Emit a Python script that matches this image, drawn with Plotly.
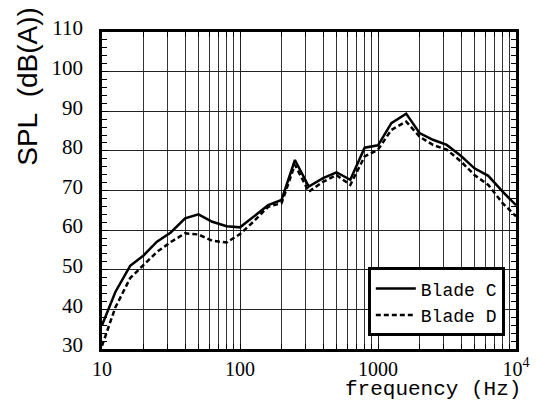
import plotly.graph_objects as go

# 1/3-octave band centre frequencies (Hz)
freq = [10, 12.5, 16, 20, 25, 31.5, 40, 50, 63, 80, 100, 125, 160, 200, 250,
        315, 400, 500, 630, 800, 1000, 1250, 1600, 2000, 2500, 3150, 4000,
        5000, 6300, 8000, 10000]

# A-weighted sound pressure level, dB(A)
spl_blade_c = [36.0, 44.4, 51.0, 53.6, 57.1, 59.4, 63.0, 64.0, 62.1, 61.0, 60.7,
               63.4, 66.3, 67.6, 77.7, 71.0, 73.1, 74.6, 72.7, 80.8, 81.4,
               87.0, 89.4, 84.5, 82.8, 81.5, 78.7, 75.6, 73.7, 69.7, 66.3]
spl_blade_d = [30.8, 40.5, 47.9, 51.1, 54.5, 57.0, 59.2, 58.9, 57.3, 56.9, 59.0,
               62.1, 65.9, 66.8, 76.5, 69.7, 72.2, 73.9, 71.4, 78.6, 80.3,
               85.3, 87.4, 83.6, 81.5, 80.3, 77.3, 73.9, 71.4, 66.8, 63.5]

x_tick_vals = [10, 100, 1000, 10000]
x_tick_text = ["10", "100", "1000", "10<sup>4</sup>"]
x_minor_vals = [m * d for d in (10, 100, 1000) for m in range(2, 10)]

fig = go.Figure()
fig.add_trace(go.Scatter(x=freq, y=spl_blade_c, mode="lines", name="Blade C",
                         line=dict(color="black", width=2.5)))
fig.add_trace(go.Scatter(x=freq, y=spl_blade_d, mode="lines", name="Blade D",
                         line=dict(color="black", width=2.5, dash="5px,3px")))

tick_font = dict(family="Liberation Serif", size=21, color="black")

fig.update_xaxes(
    type="log", range=[1, 4],
    tickvals=x_tick_vals, ticktext=x_tick_text,
    tickfont=dict(family="Liberation Serif", size=20, color="black"),
    ticks="inside", ticklen=5, tickcolor="black", tickwidth=1,
    showgrid=True, gridcolor="#222", gridwidth=1,
    minor=dict(tickvals=x_minor_vals, showgrid=True, gridcolor="#333",
               gridwidth=1, ticks="inside", ticklen=5, tickcolor="black"),
    showline=True, linecolor="black", linewidth=2.5, mirror="allticks",
    zeroline=False, ticklabelstandoff=0,
)
fig.update_yaxes(
    range=[30, 110], dtick=10, tickfont=tick_font,
    ticks="inside", ticklen=6, tickcolor="black", tickwidth=1,
    showgrid=True, gridcolor="#222", gridwidth=1,
    minor=dict(dtick=2, ticks="inside", ticklen=5, tickcolor="black",
               showgrid=False),
    showline=True, linecolor="black", linewidth=2.5, mirror="allticks",
    zeroline=False, ticklabelstandoff=12, ticklabelshift=-4,
)

fig.update_layout(
    width=550, height=400,
    margin=dict(l=102, r=34, t=32, b=51),
    paper_bgcolor="white", plot_bgcolor="white",
    legend=dict(x=0.973, y=0.04, xanchor="right", yanchor="bottom",
                bgcolor="white", bordercolor="black", borderwidth=3,
                font=dict(family="Liberation Mono", size=18, color="black"),
                itemwidth=40, tracegroupgap=0),
    annotations=[
        dict(text="frequency (Hz)", xref="paper", yref="paper",
             x=1.017, y=-0.129, xanchor="right", yanchor="middle",
             showarrow=False,
             font=dict(family="Liberation Mono", size=21, color="black")),
        dict(text="SPL\u00a0\u00a0(dB(A))", xref="paper", yref="paper",
             x=-0.179, y=0.83, xanchor="center", yanchor="middle",
             textangle=-90, showarrow=False,
             font=dict(family="Liberation Sans", size=28, color="black")),
    ],
)

fig.write_html("out.html")
